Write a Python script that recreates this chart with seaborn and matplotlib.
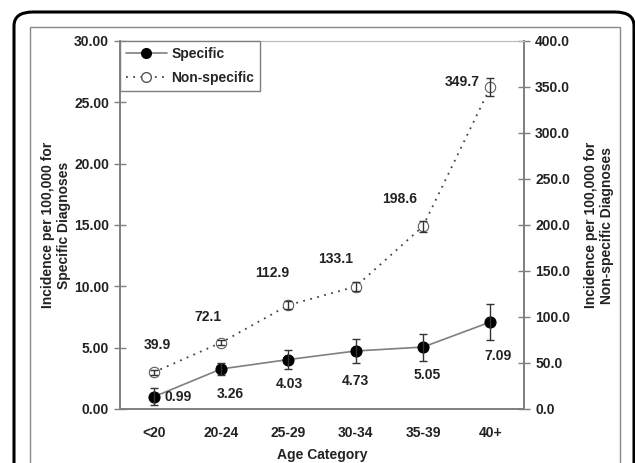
import numpy as np
import pandas as pd
import matplotlib.pyplot as plt
import seaborn as sns
from matplotlib.patches import FancyBboxPatch, Rectangle
from matplotlib.lines import Line2D

# Daten
categories = ["<20", "20-24", "25-29", "30-34", "35-39", "40+"]
specific = [0.99, 3.26, 4.03, 4.73, 5.05, 7.09]
specific_err = [0.7, 0.5, 0.8, 1.0, 1.1, 1.5]
nonspecific = [39.9, 72.1, 112.9, 133.1, 198.6, 349.7]
nonspecific_err = [3, 3, 4, 5, 6, 10]
left_ticks = [0, 5, 10, 15, 20, 25, 30]
right_ticks = [0, 50, 100, 150, 200, 250, 300, 350, 400]

# Label-Versatz in Pixeln
spec_off = [(24, 0), (9, -25), (1, -24), (0, -30), (4, -28), (8, -34)]
nons_off = [(4, 27), (-13, 26), (-16, 32), (-20, 28), (-23, 27), (-28, 5)]

df = pd.DataFrame({"cat": categories, "spec": specific, "nons": nonspecific})

sns.set_style("white")
plt.rcParams["font.family"] = ["Liberation Sans", "DejaVu Sans"]
plt.rcParams["font.weight"] = "bold"

fig = plt.figure(figsize=(6.35, 4.63), dpi=100)
# Rahmen
fig.patches.append(FancyBboxPatch((14 / 635, -0.2), 620 / 635, 1 - 12 / 463 + 0.2,
                                  boxstyle="round,pad=0,rounding_size=0.03",
                                  transform=fig.transFigure, fill=False,
                                  edgecolor="black", linewidth=2.2))
fig.patches.append(Rectangle((30 / 635, -0.1), 590 / 635, 1 - 27 / 463 + 0.1,
                             transform=fig.transFigure, fill=False,
                             edgecolor="#888888", linewidth=1))

ax = fig.add_axes([120 / 635, 1 - 409 / 463, 404 / 635, 368 / 463])
ax2 = ax.twinx()
ax.patch.set_alpha(0)

gray = "#7f7f7f"

sns.lineplot(data=df, x="cat", y="spec", ax=ax, color=gray, linewidth=1.2,
             marker="o", markersize=8, markerfacecolor="black",
             markeredgecolor="black", sort=False)
ax.errorbar(categories, specific, yerr=specific_err, fmt="none",
            ecolor="#333333", elinewidth=1, capsize=3)

sns.lineplot(data=df, x="cat", y="nons", ax=ax2, color="#444444", linewidth=1.3,
             linestyle=(0, (1, 3)), marker="o", markersize=7.5,
             markerfacecolor="white", markeredgecolor="#555555", sort=False)
ax2.errorbar(categories, nonspecific, yerr=nonspecific_err, fmt="none",
             ecolor="#333333", elinewidth=1, capsize=3)

for i, v in enumerate(specific):
    ax.annotate(f"{v:.2f}", (i, v), xytext=spec_off[i], textcoords="offset pixels",
                ha="center", va="center", fontsize=10, fontweight="bold", color="#222222")
for i, v in enumerate(nonspecific):
    ax2.annotate(f"{v:.1f}", (i, v), xytext=nons_off[i], textcoords="offset pixels",
                 ha="center", va="center", fontsize=10, fontweight="bold", color="#222222")

ax.set_xlim(-0.5, 5.5)
ax.set_ylim(0, 30)
ax2.set_ylim(0, 400)
ax.set_yticks(left_ticks)
ax.set_yticklabels([f"{t:.2f}" for t in left_ticks])
ax2.set_yticks(right_ticks)
ax2.set_yticklabels([f"{t:.1f}" for t in right_ticks])
ax.set_xticks(range(len(categories)))
ax.set_xticklabels(categories)
ax.set_xticks([0.5, 1.5, 2.5, 3.5, 4.5], minor=True)

ax.tick_params(axis="x", which="major", length=0, pad=12, labelsize=10)
ax.tick_params(axis="x", which="minor", length=8, direction="inout", color=gray, width=1)
ax.tick_params(axis="y", length=8, direction="inout", color=gray, width=1, pad=4, labelsize=10)
ax2.tick_params(axis="y", length=8, direction="inout", color=gray, width=1, pad=4, labelsize=10)
for t in ax.get_xticklabels() + ax.get_yticklabels() + ax2.get_yticklabels():
    t.set_fontweight("bold")
    t.set_color("#222222")

for a in (ax, ax2):
    for s in a.spines.values():
        s.set_color(gray)
        s.set_linewidth(1.2)
    a.spines["top"].set_color("#bbbbbb")
    a.spines["top"].set_linewidth(0.8)

ax.set_xlabel("Age Category", fontsize=10, fontweight="bold", labelpad=6, color="#222222")
ax.set_ylabel("Incidence per 100,000 for\nSpecific Diagnoses", fontsize=10,
              fontweight="bold", labelpad=2, color="#222222")
ax2.set_ylabel("Incidence per 100,000 for\nNon-specific Diagnoses", fontsize=10,
               fontweight="bold", labelpad=10, color="#222222", rotation=90)

handles = [
    Line2D([], [], color=gray, linewidth=1.2, marker="o", markersize=7,
           markerfacecolor="black", markeredgecolor="black"),
    Line2D([], [], color="#444444", linewidth=1.3, linestyle=(0, (1, 3)), marker="o",
           markersize=7, markerfacecolor="white", markeredgecolor="#555555"),
]
leg = ax2.legend(handles, ["Specific", "Non-specific"], loc="upper left",
                 bbox_to_anchor=(0, 1), borderaxespad=0, fancybox=False,
                 framealpha=1, edgecolor=gray, numpoints=1, handlelength=3.0,
                 handletextpad=0.3, labelspacing=0.75,
                 prop={"weight": "bold", "size": 10})
leg.get_frame().set_linewidth(1)

plt.savefig("out.png", dpi=100)
